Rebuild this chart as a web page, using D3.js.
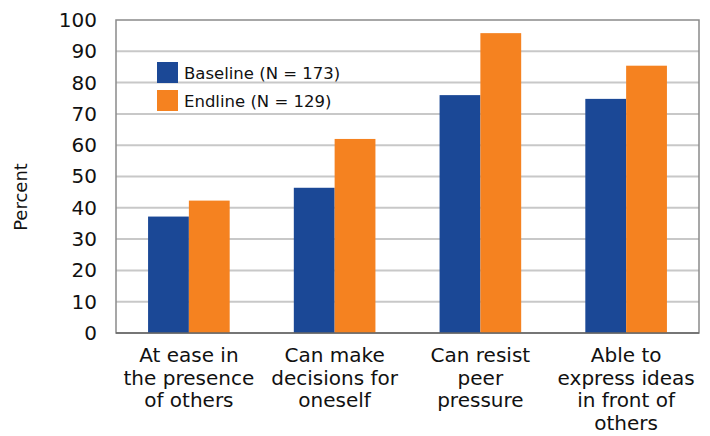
<!DOCTYPE html>
<html>
<meta charset="utf-8">
<style type="text/css">
	body { margin: 0; background: #fff; }
	text { font-family: "DejaVu Sans", sans-serif; fill: #111; }
</style>
<svg width="710" height="436"></svg>
<script src="https://d3js.org/d3.v7.min.js"></script>
<script>
	var categories = [
		['At ease in', 'the presence', 'of others'],
		['Can make', 'decisions for', 'oneself'],
		['Can resist', 'peer', 'pressure'],
		['Able to', 'express ideas', 'in front of', 'others']
	];
	var seriesNames = ['Baseline (N = 173)', 'Endline (N = 129)'];
	var baseline = [37.2, 46.4, 76.0, 74.8];
	var endline = [42.3, 62.0, 95.8, 85.4];
	var yTicks = [0, 10, 20, 30, 40, 50, 60, 70, 80, 90, 100];
	var colors = ['#1b4896', '#f58220'];

	var svg = d3.select('svg'),
			plotL = 116, plotR = 699, plotT = 20, plotB = 333;

	var x = d3.scaleBand()
			.domain(d3.range(categories.length))
			.range([plotL, plotR])
			.paddingInner(0.44)
			.paddingOuter(0.22);

	var x1 = d3.scaleBand()
			.domain([0, 1])
			.range([0, x.bandwidth()]);

	var y = d3.scaleLinear()
			.domain([0, 100])
			.range([plotB, plotT]);

	// grid
	svg.append('g')
		.selectAll('line')
		.data(yTicks.slice(1, -1))
		.enter().append('line')
			.attr('x1', plotL).attr('x2', plotR)
			.attr('y1', (d) => y(d)).attr('y2', (d) => y(d))
			.attr('stroke', '#c8c8c8')
			.attr('stroke-width', 2);

	// frame
	svg.append('rect')
		.attr('x', plotL).attr('y', plotT)
		.attr('width', plotR - plotL).attr('height', plotB - plotT)
		.attr('fill', 'none')
		.attr('stroke', '#8a8a8a')
		.attr('stroke-width', 1.5);

	var data = categories.map((c, i) => [baseline[i], endline[i]]);

	var group = svg.selectAll('.group')
			.data(data)
		.enter().append('g')
			.attr('class', 'group')
			.attr('transform', (d, i) => 'translate(' + x(i) + ',0)');

	group.selectAll('rect')
		.data((d) => d)
		.enter().append('rect')
			.attr('x', (d, j) => x1(j))
			.attr('width', x1.bandwidth())
			.attr('y', (d) => y(d))
			.attr('height', (d) => y(0) - y(d))
			.attr('fill', (d, j) => colors[j]);

	svg.append('line')
		.attr('x1', plotL).attr('x2', plotR)
		.attr('y1', plotB).attr('y2', plotB)
		.attr('stroke', '#666')
		.attr('stroke-width', 1.5);

	// y axis labels
	var yAxis = d3.axisLeft(y).tickValues(yTicks).tickSize(0).tickPadding(19);
	var ya = svg.append('g')
			.attr('transform', 'translate(' + plotL + ',0)')
			.call(yAxis);
	ya.select('.domain').remove();
	ya.selectAll('text')
		.style('font-family', '"DejaVu Sans", sans-serif')
		.style('font-size', '20px')
		.attr('fill', '#111');

	svg.append('text')
		.attr('transform', 'translate(27,197) rotate(-90)')
		.attr('text-anchor', 'middle')
		.style('font-size', '18px')
		.text('Percent');

	// x labels
	var xl = svg.selectAll('.xlabel')
			.data(categories)
		.enter().append('text')
			.attr('class', 'xlabel')
			.attr('text-anchor', 'middle')
			.attr('x', (d, i) => x(i) + x.bandwidth() / 2)
			.style('font-size', '20px');
	xl.selectAll('tspan')
		.data((d) => d)
		.enter().append('tspan')
			.attr('x', function() { return this.parentNode.getAttribute('x'); })
			.attr('y', (d, k) => 362 + k * 22.7)
			.text((d) => d);

	// legend
	var legend = svg.selectAll('.legend')
			.data(seriesNames)
		.enter().append('g')
			.attr('class', 'legend')
			.attr('transform', (d, i) => 'translate(157,' + (62 + i * 28) + ')');

	legend.append('rect')
		.attr('width', 21).attr('height', 21)
		.attr('fill', (d, i) => colors[i]);

	legend.append('text')
		.attr('x', 27).attr('y', 17)
		.style('font-size', '16.5px')
		.text((d) => d);
</script>
</html>
